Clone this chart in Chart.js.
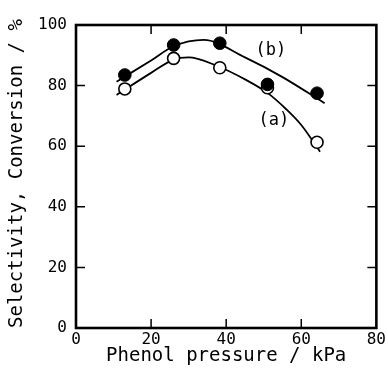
<!DOCTYPE html>
<html>
<head>
<meta charset="utf-8">
<script src="https://cdn.jsdelivr.net/npm/chart.js@4"></script>
<style>
  html, body { margin: 0; padding: 0; background: #fff; }
  #wrap { width: 388px; height: 381px; }
</style>
</head>
<body>
<div id="wrap"><canvas id="c" width="388" height="381"></canvas></div>
<script>
// ---- data ----
const pressure = [13, 26, 38.3, 51, 64.2];          // kPa
const seriesA = [78.9, 89, 85.9, 79.3, 61.3];       // (a) open circles, %
const seriesB = [83.5, 93.4, 94, 80.4, 77.5];       // (b) filled circles, %

const curveAx = [10.8, 20, 26, 30, 37, 45.4, 51, 56, 60, 65];
const curveAy = [76.9, 84.2, 88.6, 89.3, 86.8, 81.8, 77.6, 72.2, 67, 58.2];
const curveBx = [10.8, 20, 26, 34, 45, 55, 66.2];
const curveBy = [81.3, 88.3, 93, 95.1, 89.3, 82.8, 74.2];

const xTicks = [0, 20, 40, 60, 80];
const yTicks = [0, 20, 40, 60, 80, 100];
const curveLabels = ['(a)', '(b)'];
const xTitle = 'Phenol pressure / kPa';
const yTitle = 'Selectivity, Conversion / %';

const pts = (xs, ys) => xs.map((x, i) => ({ x: x, y: ys[i] }));

const MONO = '"DejaVu Sans Mono", "Liberation Mono", monospace';

// frame, inward ticks and curve labels, all placed via the chart's scales
const framePlugin = {
  id: 'framePlugin',
  afterDraw(chart) {
    const { ctx, chartArea: a, scales: { x, y } } = chart;
    ctx.save();
    ctx.strokeStyle = '#000';
    ctx.lineWidth = 1.5;
    const tl = 9;
    xTicks.slice(1, -1).forEach(v => {
      const px = x.getPixelForValue(v);
      ctx.beginPath();
      ctx.moveTo(px, a.bottom); ctx.lineTo(px, a.bottom - tl);
      ctx.moveTo(px, a.top); ctx.lineTo(px, a.top + tl);
      ctx.stroke();
    });
    yTicks.slice(1, -1).forEach(v => {
      const py = y.getPixelForValue(v);
      ctx.beginPath();
      ctx.moveTo(a.left, py); ctx.lineTo(a.left + tl, py);
      ctx.moveTo(a.right, py); ctx.lineTo(a.right - tl, py);
      ctx.stroke();
    });
    ctx.lineWidth = 2.6;
    ctx.strokeRect(a.left, a.top, a.right - a.left, a.bottom - a.top);
    // curve labels
    ctx.fillStyle = '#000';
    ctx.font = '17px ' + MONO;
    ctx.textAlign = 'center';
    ctx.textBaseline = 'middle';
    ctx.fillText(curveLabels[0], x.getPixelForValue(52.7), y.getPixelForValue(68.6));
    ctx.fillText(curveLabels[1], x.getPixelForValue(51.9), y.getPixelForValue(91.7));
    ctx.restore();
  }
};

new Chart(document.getElementById('c'), {
  type: 'scatter',
  data: {
    datasets: [
      { label: '(b) points', data: pts(pressure, seriesB), pointRadius: 6.3, pointBackgroundColor: '#000',
        pointBorderColor: '#000', pointBorderWidth: 1, showLine: false },
      { label: '(a) points', data: pts(pressure, seriesA), pointRadius: 6, pointBackgroundColor: '#fff',
        pointBorderColor: '#000', pointBorderWidth: 1.6, showLine: false },
      { label: '(b) curve', data: pts(curveBx, curveBy), showLine: true, pointRadius: 0,
        borderColor: '#000', borderWidth: 1.8, cubicInterpolationMode: 'monotone', fill: false },
      { label: '(a) curve', data: pts(curveAx, curveAy), showLine: true, pointRadius: 0,
        borderColor: '#000', borderWidth: 1.8, cubicInterpolationMode: 'monotone', fill: false }
    ]
  },
  options: {
    responsive: false,
    animation: false,
    layout: { padding: { left: 6, right: 11, top: 25, bottom: 14 } },
    plugins: { legend: { display: false }, tooltip: { enabled: false } },
    scales: {
      x: {
        type: 'linear', min: 0, max: 80,
        afterBuildTicks: s => { s.ticks = xTicks.map(v => ({ value: v })); },
        afterFit: s => { s.height = 39; },
        grid: { display: false, drawTicks: false },
        border: { display: false },
        ticks: { color: '#000', font: { family: MONO, size: 16 }, padding: 2, maxRotation: 0 },
        title: { display: true, text: xTitle, color: '#000', font: { family: MONO, size: 19 }, padding: 0 }
      },
      y: {
        type: 'linear', min: 0, max: 100,
        afterBuildTicks: s => { s.ticks = yTicks.map(v => ({ value: v })); },
        afterFit: s => { s.width = 70; },
        grid: { display: false, drawTicks: false },
        border: { display: false },
        ticks: { color: '#000', font: { family: MONO, size: 16 }, padding: 9 },
        title: { display: true, text: yTitle, color: '#000', align: 'start', font: { family: MONO, size: 19 }, padding: 0 }
      }
    }
  },
  plugins: [framePlugin]
});
</script>
</body>
</html>
